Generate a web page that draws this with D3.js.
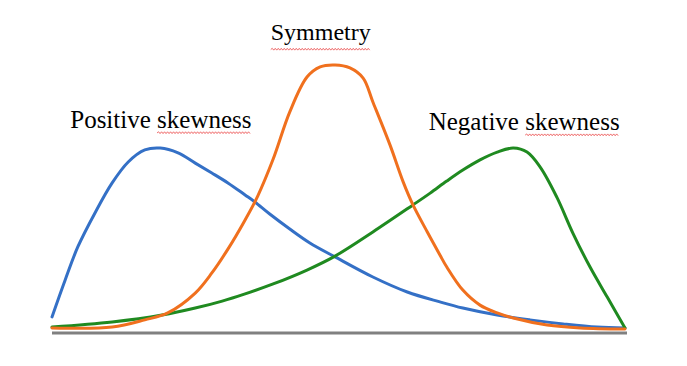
<!DOCTYPE html>
<html>
<head>
<meta charset="utf-8">
<script src="https://cdn.jsdelivr.net/npm/d3@7"></script>
<style>
  html, body { margin: 0; padding: 0; background: #ffffff; }
  svg { display: block; }
</style>
</head>
<body>
<svg id="chart" width="687" height="366"></svg>
<script>
// Data (x in arbitrary units 0..10, y as relative density)
const positiveX = [0, 0.23, 0.45, 0.75, 1.05, 1.33, 1.62, 1.89, 2.2, 2.5, 2.79, 3.07, 3.37, 3.54, 3.80, 4.15, 4.50, 4.94, 5.6, 6.2, 6.77, 7.17, 7.77, 8.34, 8.92, 9.51, 10];
const positiveY = [0.06, 0.198, 0.321, 0.448, 0.56, 0.638, 0.683, 0.69, 0.672, 0.634, 0.597, 0.56, 0.515, 0.489, 0.444, 0.388, 0.336, 0.284, 0.209, 0.153, 0.116, 0.093, 0.067, 0.049, 0.034, 0.022, 0.019];

const symmetryX = [0, 1.05, 1.62, 2.02, 2.5, 2.79, 3.07, 3.37, 3.59, 3.86, 4.15, 4.45, 4.68, 4.94, 5.2, 5.43, 5.6, 5.9, 6.13, 6.3, 6.55, 6.77, 6.89, 7.17, 7.47, 7.77, 8.05, 8.64, 9.22, 10];
const symmetryY = [0.019, 0.022, 0.049, 0.075, 0.149, 0.224, 0.313, 0.422, 0.511, 0.649, 0.825, 0.955, 0.993, 1.0, 0.989, 0.951, 0.862, 0.701, 0.563, 0.478, 0.377, 0.291, 0.246, 0.16, 0.104, 0.075, 0.056, 0.03, 0.019, 0.015];

const negativeX = [0, 1.05, 1.92, 2.5, 2.97, 3.37, 3.86, 4.45, 4.94, 5.6, 6.3, 6.6, 6.89, 7.17, 7.47, 7.77, 8.05, 8.29, 8.52, 8.81, 9.09, 9.39, 9.69, 10];
const negativeY = [0.022, 0.041, 0.067, 0.093, 0.119, 0.146, 0.183, 0.235, 0.287, 0.377, 0.478, 0.522, 0.567, 0.608, 0.646, 0.675, 0.69, 0.675, 0.619, 0.507, 0.373, 0.246, 0.134, 0.019];

const labels = ["Positive skewness", "Symmetry", "Negative skewness"];
const labelX = [1.90, 4.69, 8.24];   // label centres in data units
const labelY = [0.765, 1.095, 0.757]; // label baselines in data units
const underlineWords = ["skewness", "Symmetry", "skewness"];
const underlineGap = [5, 10, 5];

const colors = ["#3470c6", "#f0701e", "#1f8a20"];

const svg = d3.select("#chart");
const x = d3.scaleLinear().domain([0, 10]).range([52, 625]);
const y = d3.scaleLinear().domain([0, 1]).range([333, 65]);

// baseline axis
svg.append("line")
  .attr("x1", x(0)).attr("x2", x(10) + 2)
  .attr("y1", y(0)).attr("y2", y(0))
  .attr("stroke", "#808080").attr("stroke-width", 3);

const line = d3.line().x(d => x(d[0])).y(d => y(d[1])).curve(d3.curveCatmullRom.alpha(0.5));

const series = [
  { xs: positiveX, ys: positiveY, color: colors[0] },
  { xs: negativeX, ys: negativeY, color: colors[2] },
  { xs: symmetryX, ys: symmetryY, color: colors[1] }
];

series.forEach(s => {
  const pts = s.xs.map((v, i) => [v, s.ys[i]]);
  svg.append("path")
    .attr("d", line(pts))
    .attr("fill", "none")
    .attr("stroke", s.color)
    .attr("stroke-width", 3)
    .attr("stroke-linejoin", "round")
    .attr("stroke-linecap", "round");
});

// labels
labels.forEach((t, i) => {
  const txt = svg.append("text")
    .attr("x", x(labelX[i]))
    .attr("y", y(labelY[i]))
    .attr("text-anchor", "middle")
    .attr("font-family", "'Liberation Serif', 'Times New Roman', serif")
    .attr("font-size", i === 1 ? 24 : 25)
    .attr("fill", "#000")
    .text(t);
  // spell-check style wavy underline
  const node = txt.node();
  const w = underlineWords[i];
  const start = t.indexOf(w);
  const x0 = node.getStartPositionOfChar(start).x;
  const x1 = node.getEndPositionOfChar(start + w.length - 1).x;
  const yb = y(labelY[i]) + underlineGap[i];
  let d = `M${x0},${yb}`;
  let up = true;
  for (let xx = x0 + 1.5; xx <= x1; xx += 1.5) {
    d += `L${xx},${up ? yb - 1.2 : yb + 0.6}`;
    up = !up;
  }
  svg.append("path")
    .attr("d", d)
    .attr("fill", "none")
    .attr("stroke", "#e83a3a")
    .attr("stroke-width", 1)
    .attr("opacity", 0.75);
});
</script>
</body>
</html>
